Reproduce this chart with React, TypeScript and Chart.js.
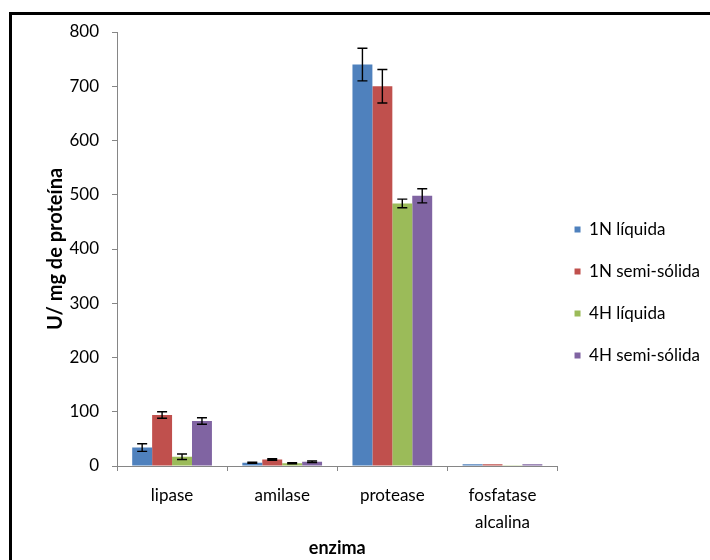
import React, { useEffect, useRef } from "react";
import { Chart, registerables } from "chart.js";

Chart.register(...registerables);

const categories: (string | string[])[] = ["lipase", "amilase", "protease", ["fosfatase", "alcalina"]];
const seriesNames = ["1N líquida", "1N semi-sólida", "4H líquida", "4H semi-sólida"];

const liquida1N = [34, 6, 740, 3];
const semiSolida1N = [94, 12, 700, 3];
const liquida4H = [17, 5, 484, 0.5];
const semiSolida4H = [83, 8, 498, 3];

const err1NLiquida = [7, 1, 30, 0];
const err1NSemiSolida = [6, 1.5, 31, 0];
const err4HLiquida = [5, 1, 8, 0];
const err4HSemiSolida = [6, 1.5, 13, 0];

const yTicks = [0, 100, 200, 300, 400, 500, 600, 700, 800];

const colors = ["#4F81BD", "#C0504D", "#9BBB59", "#8064A2"];

const FONT = "Lato, 'DejaVu Sans Condensed', sans-serif";

const errorBarPlugin = {
  id: "errorBars",
  afterDatasetsDraw(chart: any) {
    const ctx = chart.ctx;
    const y = chart.scales.y;
    chart.data.datasets.forEach((ds: any, i: number) => {
      const meta = chart.getDatasetMeta(i);
      const errs: number[] = ds.errors || [];
      meta.data.forEach((el: any, j: number) => {
        const e = errs[j];
        if (!e) return;
        const v = ds.data[j] as number;
        const top = y.getPixelForValue(v + e);
        const bot = y.getPixelForValue(v - e);
        ctx.save();
        ctx.strokeStyle = "#000";
        ctx.lineWidth = 1.4;
        ctx.beginPath();
        ctx.moveTo(el.x, top);
        ctx.lineTo(el.x, bot);
        ctx.moveTo(el.x - 5, top);
        ctx.lineTo(el.x + 5, top);
        ctx.moveTo(el.x - 5, bot);
        ctx.lineTo(el.x + 5, bot);
        ctx.stroke();
        ctx.restore();
      });
    });
  },
};

export default function App() {
  const canvasRef = useRef<HTMLCanvasElement | null>(null);

  useEffect(() => {
    if (!canvasRef.current) return;
    const values = [liquida1N, semiSolida1N, liquida4H, semiSolida4H];
    const errors = [err1NLiquida, err1NSemiSolida, err4HLiquida, err4HSemiSolida];
    const chart = new Chart(canvasRef.current, {
      type: "bar",
      data: {
        labels: categories as any,
        datasets: seriesNames.map((name, i) => ({
          label: name,
          data: values[i],
          errors: errors[i],
          backgroundColor: colors[i],
          borderWidth: 0,
          barPercentage: 1,
          categoryPercentage: 0.724,
        })) as any,
      },
      options: {
        responsive: false,
        animation: false,
        layout: { padding: { top: 32, left: 0, bottom: 0, right: 0 } },
        plugins: {
          tooltip: { enabled: false },
          legend: {
            position: "right",
            align: "start",
            title: { display: true, text: " ", font: { size: 10 }, padding: { top: 160, bottom: 0 } },
            labels: {
              boxWidth: 6,
              boxHeight: 6,
              padding: 17,
              color: "#000",
              font: { family: FONT, size: 17, lineHeight: 25 / 17 },
              generateLabels: (chart: any) =>
                chart.data.datasets.map((ds: any, i: number) => ({
                  text: [ds.label],
                  fillStyle: ds.backgroundColor,
                  strokeStyle: ds.backgroundColor,
                  lineWidth: 0,
                  hidden: false,
                  datasetIndex: i,
                  fontColor: "#000",
                })),
            },
          },
        },
        scales: {
          x: {
            afterFit: (s: any) => {
              s.height = 94;
            },
            grid: { display: true, drawOnChartArea: false, drawTicks: true, tickLength: 5, color: "#868686", offset: true },
            border: { display: true, color: "#868686", width: 1 },
            ticks: { color: "#000", padding: 11, maxRotation: 0, font: { family: FONT, size: 17, lineHeight: 27 / 17 } },
            title: {
              display: true,
              text: "enzima",
              color: "#000",
              font: { family: FONT, size: 18, weight: "bold" },
              padding: { top: 0, bottom: 1 },
            },
          },
          y: {
            min: 0,
            max: 800,
            afterFit: (s: any) => {
              s.width = 117;
            },
            afterBuildTicks: (s: any) => {
              s.ticks = yTicks.map((v) => ({ value: v }));
            },
            grid: { display: true, drawOnChartArea: false, drawTicks: true, tickLength: 5, color: "#868686" },
            border: { display: true, color: "#868686", width: 1 },
            ticks: { color: "#000", padding: 13, font: { family: FONT, size: 17 } },
            title: {
              display: true,
              text: "U/ mg de proteína",
              color: "#000",
              font: { family: FONT, size: 20, weight: "bold" },
              padding: { top: 44, bottom: 0 },
            },
          },
        },
      } as any,
      plugins: [errorBarPlugin],
    });
    return () => chart.destroy();
  }, []);

  return (
    <div style={{ position: "fixed", left: 0, top: 0, width: 710, height: 560, background: "#fff" }}>
      <div
        style={{
          position: "absolute",
          left: 9,
          top: 12,
          width: 710 - 12,
          height: 560 - 15,
          borderTop: "3px solid #000",
          borderLeft: "3px solid #000",
        }}
      />
      <canvas ref={canvasRef} width={710} height={560} style={{ position: "absolute", left: 0, top: 0 }} />
    </div>
  );
}
